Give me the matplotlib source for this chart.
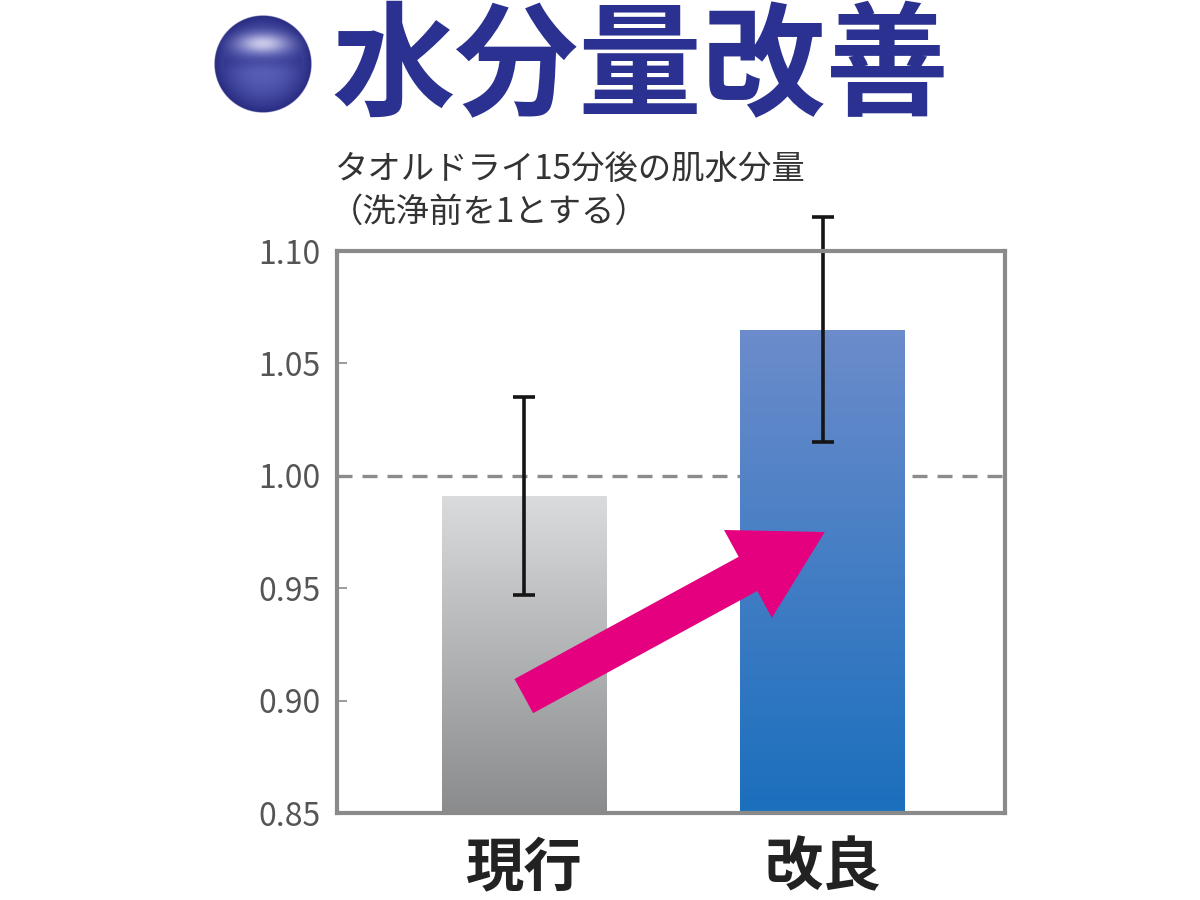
import numpy as np
import matplotlib
matplotlib.use('Agg')
import matplotlib.pyplot as plt
from matplotlib.colors import LinearSegmentedColormap, to_rgb
from matplotlib.patches import FancyArrowPatch, ArrowStyle

plt.rcParams['font.family'] = ['Noto Sans CJK JP', 'DejaVu Sans']

# data
categories = ['現行', '改良']
values = [0.991, 1.065]
errors = [0.044, 0.050]
baseline = 1.00
yticks = [0.85, 0.90, 0.95, 1.00, 1.05, 1.10]
ytick_labels = ['0.85', '0.90', '0.95', '1.00', '1.05', '1.10']
title = '水分量改善'
subtitle = ['タオルドライ15分後の肌水分量', '（洗浄前を1とする）']
# arrow from the current bar to the improved bar (data coords)
arrow_start = (0.0, 0.902)
arrow_end = (1.007, 0.975)

bar_colors = [('#8a8b8d', '#dadbdc'), ('#1b6fbd', '#6c8ccb')]  # (bottom, top)
navy = '#2b3190'
frame_gray = '#8a8a8a'

fig = plt.figure(figsize=(12, 9), dpi=100)
ax = fig.add_axes([337 / 1200, 1 - 813 / 900, 668 / 1200, 562 / 900])

ymin, ymax = yticks[0], yticks[-1]
x = np.arange(len(categories))
width = 0.55

ax.axhline(baseline, color='#8c8c8c', lw=2.4, dashes=(4.5, 3), zorder=1)

bars = ax.bar(x, np.array(values) - ymin, bottom=ymin, width=width,
              color='none', edgecolor='none', zorder=2)
grad = np.linspace(0, 1, 256)[:, None]
for bar, (c_bot, c_top) in zip(bars, bar_colors):
    cmap = LinearSegmentedColormap.from_list('g', [c_bot, c_top])
    x0 = bar.get_x()
    im = ax.imshow(grad, extent=[x0, x0 + bar.get_width(), ymin, ymin + bar.get_height()],
                   origin='lower', cmap=cmap, aspect='auto', zorder=2)
    im.set_clip_path(bar)

eb = ax.errorbar(x, values, yerr=errors, fmt='none', ecolor='#151515',
                 elinewidth=2.6, capsize=8, capthick=2.6, zorder=4)
for artist in eb.lines[1] + eb.lines[2]:
    artist.set_clip_on(False)

arrow = FancyArrowPatch(arrow_start, arrow_end,
                        arrowstyle=ArrowStyle.Simple(head_length=63, head_width=72, tail_width=28),
                        mutation_scale=1, shrinkA=0, shrinkB=0,
                        color='#e5007f', lw=0, zorder=5)
ax.add_patch(arrow)

ax.set_xlim(-0.625, 1.61)
ax.set_ylim(ymin, ymax)
ax.set_yticks(yticks)
ax.set_yticklabels(ytick_labels, fontsize=23, color='#555555')
ax.set_xticks(x)
ax.set_xticklabels(categories, fontsize=42, fontweight='bold', color='#222222')
ax.tick_params(axis='y', direction='in', length=7, width=1.2, color=frame_gray, pad=12)
ax.tick_params(axis='x', length=0, pad=18)
for s in ax.spines.values():
    s.set_color(frame_gray)
    s.set_linewidth(3)
    s.set_zorder(6)

# subtitle
fig.text(335 / 1200, 1 - 170 / 900, subtitle[0], fontsize=24, color='#333333', va='center', ha='left')
fig.text(330 / 1200, 1 - 212 / 900, subtitle[1], fontsize=24, color='#333333', va='center', ha='left')

# title
fig.text(332 / 1200, 1 - 70 / 900, title, fontsize=89, fontweight='bold', color=navy,
         va='center', ha='left')

# sphere bullet
sax = fig.add_axes([211 / 1200, 1 - 113 / 900, 104 / 1200, 98 / 900])
n = 300
yy, xx = np.mgrid[-1:1:n * 1j, -1:1:n * 1j]
r = np.sqrt(xx ** 2 + yy ** 2)
light = np.array(to_rgb('#5a5fb8'))
dark = np.array(to_rgb('#262a80'))
t = np.clip(r, 0, 1) ** 2
img = light[None, None, :] * (1 - t[..., None]) + dark[None, None, :] * t[..., None]
hl = np.exp(-(((xx) / 0.5) ** 2 + ((yy + 0.42) / 0.2) ** 2))
hl_col = np.array(to_rgb('#c8c8ea'))
img = img * (1 - hl[..., None]) + hl_col[None, None, :] * hl[..., None]
band = np.exp(-(((yy + 0.05) / 0.15) ** 2)) * (r < 0.8)
img = img * (1 - 0.35 * band[..., None]) + dark * 0.35 * band[..., None]
alpha = np.clip((1 - r) * 60, 0, 1)
rgba = np.dstack([img, alpha])
sax.imshow(rgba, extent=[-1, 1, -1, 1], origin='upper')
sax.set_axis_off()

fig.savefig('out.png', dpi=100)
